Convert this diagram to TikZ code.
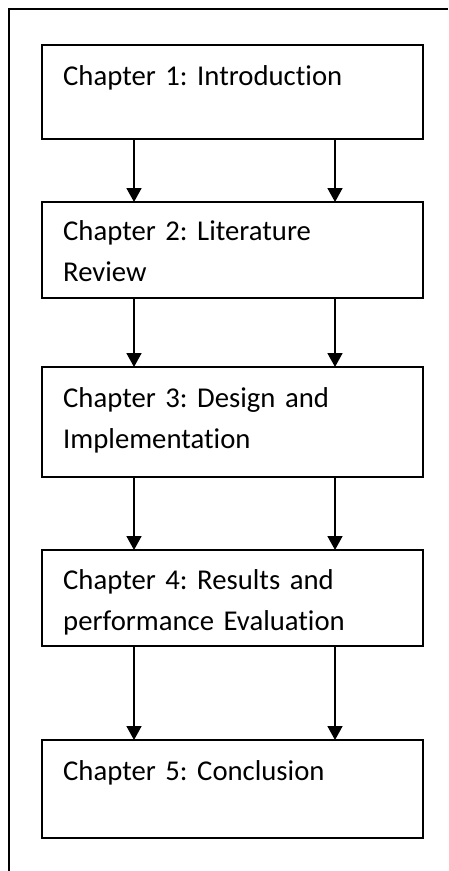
\documentclass[tikz,border=0pt]{standalone}
\usepackage{fontspec}
\setmainfont{Carlito}[RawFeature=-liga]
\usetikzlibrary{arrows.meta}
\tikzset{
  chbox/.style={draw=black, line width=1.8pt, minimum width=381pt, inner sep=0pt, outer sep=0pt, anchor=north west},
  chtext/.style={anchor=base west, inner sep=0pt, text width=355pt, align=left, font=\fontsize{28.7}{41}\selectfont\frenchspacing},
  arr/.style={line width=1.8pt, -{Triangle[width=15pt,length=14pt]}},
  frame/.style={line width=1.8pt}
}
\begin{document}
\begin{tikzpicture}[x=1pt,y=-1pt]
\useasboundingbox (0,0) rectangle (448,871);
\coordinate (fb) at (9,871);
\coordinate (fc) at (9,9);
\coordinate (fr) at (448,9);
\draw[frame] (fb) -- (fc) -- (fr);
\node[chbox, minimum height=94pt] (b1) at (42,45) {};
\node[chbox, minimum height=96pt] (b2) at (42,202) {};
\node[chbox, minimum height=110pt] (b3) at (42,367) {};
\node[chbox, minimum height=96pt] (b4) at (42,550) {};
\node[chbox, minimum height=98pt] (b5) at (42,740) {};
\node[chtext] (t1) at (63,85) {Chapter 1: Introduction};
\node[chtext] (t2) at (63,240) {Chapter 2: Literature\\Review};
\node[chtext] (t3) at (63,407) {Chapter 3: Design and\\Implementation};
\node[chtext] (t4) at (63,589) {Chapter 4: Results and\\performance Evaluation};
\node[chtext] (t5) at (63,780) {Chapter 5: Conclusion};
\coordinate (xl) at (134,0);
\coordinate (xr) at (335,0);
\foreach \a/\b in {b1/b2,b2/b3,b3/b4,b4/b5}{
  \draw[arr] (\a.south -| xl) -- (\b.north -| xl);
  \draw[arr] (\a.south -| xr) -- (\b.north -| xr);
}
\end{tikzpicture}
\end{document}
